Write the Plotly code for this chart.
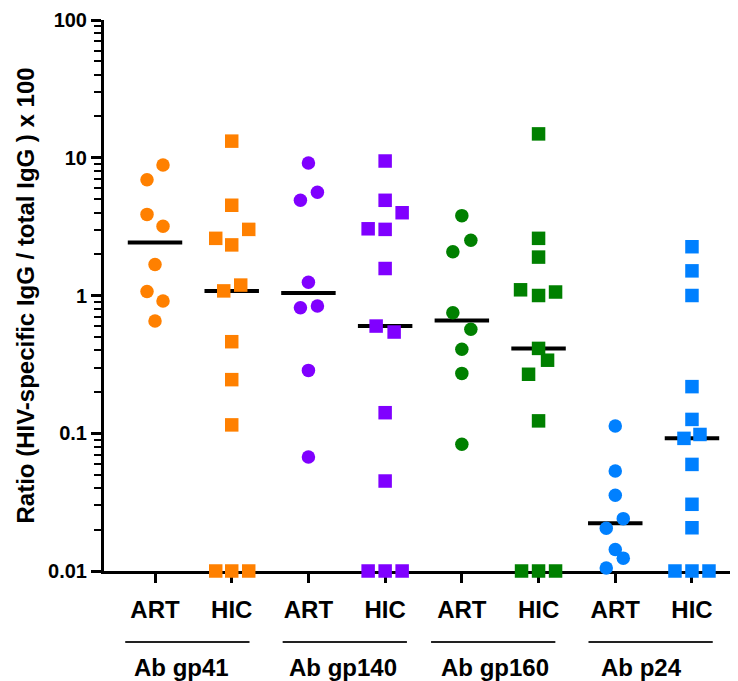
import numpy as np
import plotly.graph_objects as go

# ---------------- data ----------------
groups = ["Ab gp41", "Ab gp140", "Ab gp160", "Ab p24"]
subgroups = ["ART", "HIC"]
tick_vals_y = [0.01, 0.1, 1, 10, 100]
tick_text_y = ["0.01", "0.1", "1", "10", "100"]
y_title = "Ratio (HIV-specific IgG / total IgG ) x 100"

gp41_art = [8.86, 6.93, 3.88, 3.18, 1.68, 1.07, 0.912, 0.653]
gp41_hic = [13.2, 4.52, 3.02, 2.60, 2.33, 1.19, 1.08, 0.462, 0.245, 0.115, 0.01, 0.01, 0.01]
gp140_art = [9.16, 5.61, 4.91, 1.25, 0.816, 0.839, 0.286, 0.0673]
gp140_hic = [9.47, 4.91, 3.99, 3.05, 3.02, 1.57, 0.60, 0.543, 0.141, 0.045, 0.01, 0.01, 0.01]
gp160_art = [3.80, 2.52, 2.08, 0.750, 0.568, 0.407, 0.272, 0.0832]
gp160_hic = [14.9, 2.60, 1.90, 1.10, 1.00, 1.06, 0.413, 0.339, 0.268, 0.123, 0.01, 0.01, 0.01]
p24_art = [0.113, 0.0532, 0.0355, 0.0240, 0.0204, 0.0143, 0.0124, 0.0105]
p24_hic = [2.26, 1.51, 1.00, 0.218, 0.126, 0.0918, 0.098, 0.0594, 0.0305, 0.0206, 0.01, 0.01, 0.01]

series = [gp41_art, gp41_hic, gp140_art, gp140_hic, gp160_art, gp160_hic, p24_art, p24_hic]

# ---------------- styling / positions (not data) ----------------
# horizontal scatter offsets of each point, in pixels
offsets_px = [
    [8, -8, -8, 8, 0, -8, 8, 0],
    [0, 0, 17, -16, 0, 9, -8, 0, 0, 0, -16, 0, 17],
    [0, 9, -8, 0, -8, 9, 0, 0],
    [0, 0, 17, -17, 0, 0, -9, 9, 0, 0, -17, 0, 17],
    [0, 9, -9, -9, 9, 0, 0, 0],
    [0, 0, 0, -18, 0, 17, 0, 9, -10, 0, -17, 0, 17],
    [0, 0, 0, 8, -9, 0, 8, -9],
    [0, 0, 0, 0, 0, -8, 8, 0, 0, 0, -17, 0, 17],
]
group_label_shift_px = [-12, -4, -5, -12]
group_line_shift_px = [-6, -2, -7, -3]
colors = ["#FF8000", "#8000FF", "#008000", "#0080FF"]
symbols = ["circle", "square"]
px_per_unit = 76.7
FONT = "Liberation Sans, Arial, sans-serif"

fig = go.Figure()

# median lines (drawn under markers)
mx, my = [], []
for i, vals in enumerate(series):
    med = float(np.median(vals))
    mx += [i - 0.355, i + 0.355, None]
    my += [med, med, None]
fig.add_trace(go.Scatter(x=mx, y=my, mode="lines",
                         line=dict(color="black", width=4),
                         hoverinfo="skip", showlegend=False, cliponaxis=False))

for i, vals in enumerate(series):
    xs = [i + o / px_per_unit for o in offsets_px[i]]
    fig.add_trace(go.Scatter(
        x=xs, y=vals, mode="markers",
        marker=dict(symbol=symbols[i % 2], size=13.5, color=colors[i // 2],
                    line=dict(width=0)),
        showlegend=False, cliponaxis=False,
        name=f"{subgroups[i % 2]} {groups[i // 2]}"))

shapes = []
annotations = []
for g, name in enumerate(groups):
    c = 2 * g + 0.5
    lc = c + group_line_shift_px[g] / px_per_unit
    shapes.append(dict(type="line", xref="x", yref="paper",
                       x0=lc - 0.81, x1=lc + 0.81, y0=-0.129, y1=-0.129,
                       line=dict(color="#222222", width=2)))
    annotations.append(dict(text=name, xref="x", yref="paper", x=c, y=-0.176,
                            xshift=group_label_shift_px[g],
                            showarrow=False, xanchor="center", yanchor="middle",
                            font=dict(family=FONT, size=24, color="black",
                                      weight="bold")))

annotations.append(dict(text=y_title, xref="paper", yref="paper", x=0, y=0.5,
                        xshift=-79, textangle=-90, showarrow=False,
                        xanchor="center", yanchor="middle",
                        font=dict(family=FONT, size=24, color="black",
                                  weight="bold")))

minor_vals = [m * 10.0 ** e for e in range(-2, 2) for m in range(2, 10)]

fig.update_layout(
    width=738, height=681,
    margin=dict(l=96, r=8, t=12, b=118),
    plot_bgcolor="white", paper_bgcolor="white",
    shapes=shapes, annotations=annotations,
    font=dict(family=FONT, color="black"),
    xaxis=dict(range=[-0.665, 7.6], showgrid=False, zeroline=False,
               automargin=False,
               showline=True, linewidth=3, linecolor="black",
               tickmode="array", tickvals=list(range(8)),
               ticktext=[subgroups[i % 2] for i in range(8)],
               ticks="outside", ticklen=9, tickwidth=3, tickcolor="black",
               ticklabelstandoff=6, layer="below traces",
               tickfont=dict(family=FONT, size=24, color="black", weight="bold")),
    yaxis=dict(type="log", range=[-2, 2], showgrid=False, zeroline=False,
               automargin=False,
               showline=True, linewidth=3, linecolor="black",
               tickmode="array", tickvals=tick_vals_y, ticktext=tick_text_y,
               ticks="outside", ticklen=10, tickwidth=3, tickcolor="black",
               layer="below traces",
               tickfont=dict(family=FONT, size=20, color="black", weight="bold"),
               minor=dict(tickmode="array", tickvals=minor_vals, ticks="outside",
                          ticklen=7, tickwidth=2, tickcolor="black", showgrid=False)),
)

fig.write_html("out.html")
